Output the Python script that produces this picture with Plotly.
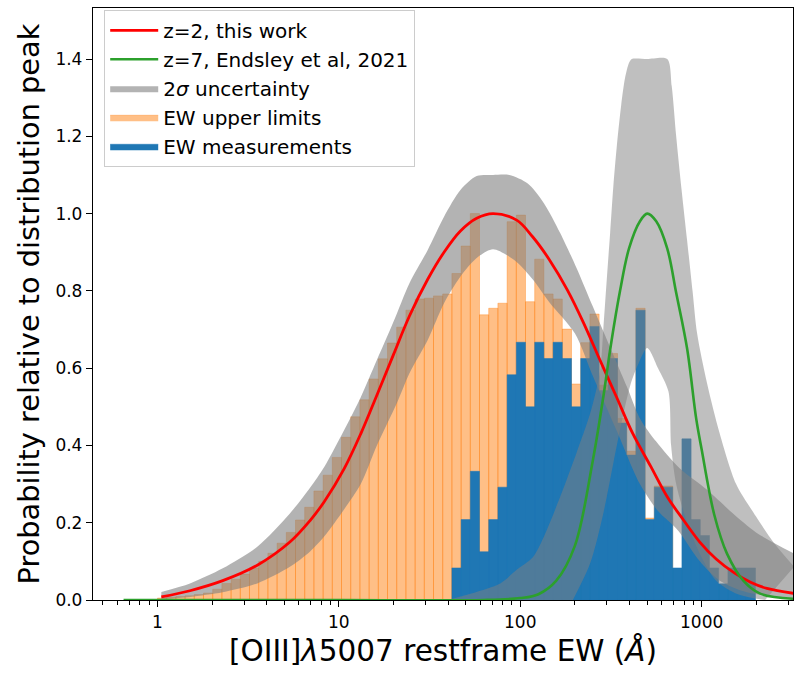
import numpy as np
import plotly.graph_objects as go

# ---------------------------------------------------------------------------
# Histogram: 69 logarithmic bins from 1 to 10^3.5 Angstrom
# ---------------------------------------------------------------------------
bin_edges = np.logspace(0, 3.5, 70)

# EW upper limits (normalised), bins 0..55
upper_limit_heights = [
    0.005, 0.007, 0.009, 0.011, 0.014, 0.018, 0.028, 0.043, 0.054, 0.067,
    0.083, 0.100, 0.121, 0.147, 0.175, 0.207, 0.240, 0.282, 0.323, 0.369,
    0.421, 0.474, 0.518, 0.572, 0.624, 0.665, 0.706, 0.750, 0.779, 0.781,
    0.787, 0.792, 0.845, 0.916, 1.000, 0.738, 0.755, 0.768, 0.979, 0.996,
    0.772, 0.882, 0.792, 0.779, 0.701, 0.559, 0.666, 0.740, 0.556, 0.638,
    0.470, 0.385, 0.755, 0.212, 0.295, 0.295,
]

# EW measurements (normalised), starting at bin 32
measurement_first_bin = 32
measurement_heights = [
    0.083, 0.208, 0.333, 0.125, 0.208, 0.292, 0.583, 0.667, 0.500, 0.667,
    0.625, 0.667, 0.625, 0.500, 0.625, 0.708, 0.542, 0.625, 0.458, 0.375,
    0.750, 0.208, 0.292, 0.292, 0.083, 0.417, 0.208, 0.167, 0.083, 0.042,
    0.083, 0.083, 0.083,
]

# ---------------------------------------------------------------------------
# z=2 distribution (this work) and its 2-sigma envelope
# ---------------------------------------------------------------------------
z2_ew = [1.05, 1.51, 2.29, 3.55, 5.37, 6.92, 8.32, 10.7, 13.2, 16.2, 20.0,
         24.5, 30.9, 38.0, 46.8, 57.5, 70.8, 95.5, 117, 145, 182, 224, 275,
         339, 417, 525, 646, 794, 977, 1202, 1514, 1862, 2291, 3236]
z2_prob = [0.008, 0.024, 0.050, 0.090, 0.150, 0.205, 0.255, 0.340, 0.430,
           0.530, 0.635, 0.735, 0.830, 0.900, 0.955, 0.988, 1.000, 0.983,
           0.940, 0.880, 0.802, 0.716, 0.621, 0.526, 0.431, 0.345, 0.267,
           0.207, 0.150, 0.106, 0.070, 0.046, 0.030, 0.017]

z2_hi_ew = [1.05, 1.51, 2.29, 3.55, 5.37, 6.92, 8.32, 10.7, 13.2, 16.2, 20.0,
            24.5, 30.9, 38.0, 46.8, 57.5, 70.8, 87.1, 110, 135, 166, 204, 251,
            309, 389, 457, 562, 759, 1072, 1479, 1995, 3236]
z2_hi = [0.021, 0.043, 0.082, 0.138, 0.224, 0.290, 0.345, 0.440, 0.525, 0.621,
         0.720, 0.820, 0.906, 0.992, 1.061, 1.097, 1.100, 1.100, 1.078, 1.027,
         0.950, 0.860, 0.760, 0.660, 0.550, 0.470, 0.410, 0.340, 0.285, 0.225,
         0.175, 0.120]

z2_lo_ew = [1.05, 1.51, 2.29, 3.55, 5.37, 6.92, 8.32, 10.7, 13.2, 16.2, 20.9,
            24.5, 30.9, 38.0, 46.8, 57.5, 70.8, 95.5, 117, 145, 200, 251, 339,
            457, 575, 741, 977, 1259, 1778, 3236]
z2_lo = [0.002, 0.008, 0.020, 0.043, 0.086, 0.125, 0.165, 0.235, 0.300, 0.400,
         0.510, 0.587, 0.673, 0.768, 0.837, 0.885, 0.908, 0.875, 0.830, 0.770,
         0.690, 0.580, 0.440, 0.300, 0.230, 0.180, 0.100, 0.050, 0.020, 0.004]

# ---------------------------------------------------------------------------
# z=7 distribution (Endsley et al. 2021) and its 2-sigma envelope
# ---------------------------------------------------------------------------
z7_ew = [0.65, 10, 63, 100, 126, 158, 200, 251, 288, 316, 355, 398, 457, 501,
         562, 646, 724, 832, 933, 1000, 1175, 1380, 1698, 2089, 3236]
z7_prob = [0.0, 0.0, 0.0, 0.005, 0.015, 0.050, 0.140, 0.360, 0.530, 0.660,
           0.800, 0.910, 0.980, 1.000, 0.980, 0.910, 0.795, 0.650, 0.470,
           0.390, 0.220, 0.120, 0.050, 0.017, 0.003]

z7_hi_ew = [39.8, 46.8, 77.6, 95.5, 117, 135, 166, 204, 243, 275, 287, 300,
            313, 326, 340, 360, 378, 398, 412, 501, 646, 684, 724, 776, 832,
            891, 944, 1072, 1259, 1549, 1995, 2512, 3236]
z7_hi = [0.0, 0.009, 0.043, 0.078, 0.110, 0.164, 0.267, 0.380, 0.483, 0.590,
         0.700, 0.830, 0.950, 1.070, 1.170, 1.280, 1.350, 1.390, 1.400, 1.400,
         1.400, 1.330, 1.200, 1.060, 0.930, 0.800, 0.690, 0.560, 0.430, 0.300,
         0.216, 0.147, 0.086]

z7_lo_ew = [195, 243, 287, 326, 371, 407, 447, 501, 575, 656, 679, 724, 832,
            977, 1202, 1585, 2239]
z7_lo = [0.0, 0.095, 0.224, 0.354, 0.483, 0.560, 0.610, 0.652, 0.600, 0.540,
         0.400, 0.300, 0.200, 0.120, 0.050, 0.015, 0.0]

x_tick_vals = [1, 10, 100, 1000]
x_tick_text = ["1", "10", "100", "1000"]
y_tick_vals = [0.0, 0.2, 0.4, 0.6, 0.8, 1.0, 1.2, 1.4]

FONT = "DejaVu Sans"


def bar_outlines(edges, heights, first_bin=0):
    """Closed rectangles (separated by gaps) for a histogram on a log axis."""
    xs, ys = [], []
    for i, h in enumerate(heights):
        if h <= 0:
            continue
        x0, x1 = edges[first_bin + i], edges[first_bin + i + 1]
        xs += [x0, x0, x1, x1, x0, None]
        ys += [0, h, h, 0, 0, None]
    return xs, ys


fig = go.Figure()

ox, oy = bar_outlines(bin_edges, upper_limit_heights)
fig.add_trace(go.Scatter(
    x=ox, y=oy, mode="lines", fill="toself",
    fillcolor="rgba(255,127,14,0.5)",
    line=dict(color="rgba(255,127,14,0.45)", width=0.8),
    name="EW upper limits", legendrank=4, legendgroup="ul", hoverinfo="skip",
))

bx, by = bar_outlines(bin_edges, measurement_heights, measurement_first_bin)
fig.add_trace(go.Scatter(
    x=bx, y=by, mode="lines", fill="toself",
    fillcolor="#1f77b4", line=dict(color="#1f77b4", width=0.5),
    name="EW measurements", legendrank=5, legendgroup="meas",
    hoverinfo="skip",
))

# 2-sigma envelopes
fig.add_trace(go.Scatter(
    x=z2_lo_ew, y=z2_lo, mode="lines",
    line=dict(width=0, shape="spline", smoothing=0.8),
    showlegend=False, legendgroup="band", hoverinfo="skip",
))
fig.add_trace(go.Scatter(
    x=z2_hi_ew, y=z2_hi, mode="lines", fill="tonexty",
    fillcolor="rgba(128,128,128,0.6)",
    line=dict(width=0, shape="spline", smoothing=0.8),
    name="2<i>σ</i> uncertainty", legendrank=3, legendgroup="band",
    hoverinfo="skip",
))
fig.add_trace(go.Scatter(
    x=z7_lo_ew, y=z7_lo, mode="lines",
    line=dict(width=0, shape="spline", smoothing=0.8),
    showlegend=False, legendgroup="band7", hoverinfo="skip",
))
fig.add_trace(go.Scatter(
    x=z7_hi_ew, y=z7_hi, mode="lines", fill="tonexty",
    fillcolor="rgba(128,128,128,0.5)",
    line=dict(width=0, shape="spline", smoothing=0.8),
    showlegend=False, legendgroup="band7", hoverinfo="skip",
))

# model curves
fig.add_trace(go.Scatter(
    x=z2_ew, y=z2_prob, mode="lines",
    line=dict(color="#ff0000", width=2.8, shape="spline"),
    name="z=2, this work", legendrank=1, legendgroup="z2",
))
fig.add_trace(go.Scatter(
    x=z7_ew, y=z7_prob, mode="lines",
    line=dict(color="#2ca02c", width=2.6, shape="spline"),
    name="z=7, Endsley et al, 2021", legendrank=2, legendgroup="z7",
))

minor_vals = [m * 10.0 ** d for d in range(-1, 4) for m in range(2, 10)]
minor_vals = [v for v in minor_vals if 0.44 <= v <= 3200]

fig.update_layout(
    width=794, height=675,
    margin=dict(l=93, r=1, t=8, b=75),
    paper_bgcolor="white", plot_bgcolor="white",
    font=dict(family=FONT, color="black"),
    legend=dict(
        x=0.016, y=0.997, xanchor="left", yanchor="top",
        traceorder="normal",
        bgcolor="rgba(255,255,255,0.85)", bordercolor="#cccccc", borderwidth=1,
        font=dict(family=FONT, size=20),
        itemwidth=48, tracegroupgap=1,
    ),
    xaxis=dict(
        type="log", range=[np.log10(0.441), np.log10(3190)],
        tickvals=x_tick_vals, ticktext=x_tick_text,
        ticks="outside", ticklen=6, tickwidth=1.3, tickcolor="black",
        tickfont=dict(family=FONT, size=17),
        minor=dict(tickvals=minor_vals, ticks="outside", ticklen=3.5,
                   tickwidth=1, tickcolor="black", showgrid=False),
        showline=True, linecolor="black", linewidth=1.3, mirror=True,
        showgrid=False, zeroline=False,
        title=dict(text="[OIII]<i>λ</i>5007 restframe EW (<i>Å</i>)",
                   font=dict(family=FONT, size=29.5), standoff=9),
    ),
    yaxis=dict(
        range=[0, 1.532],
        tickvals=y_tick_vals, tickformat=".1f",
        ticks="outside", ticklen=6, tickwidth=1.3, tickcolor="black",
        tickfont=dict(family=FONT, size=17),
        showline=True, linecolor="black", linewidth=1.3, mirror=True,
        showgrid=False, zeroline=False,
        title=dict(text="Probability relative to distribution peak",
                   font=dict(family=FONT, size=28.8), standoff=7),
    ),
)

fig.write_html("out.html")
